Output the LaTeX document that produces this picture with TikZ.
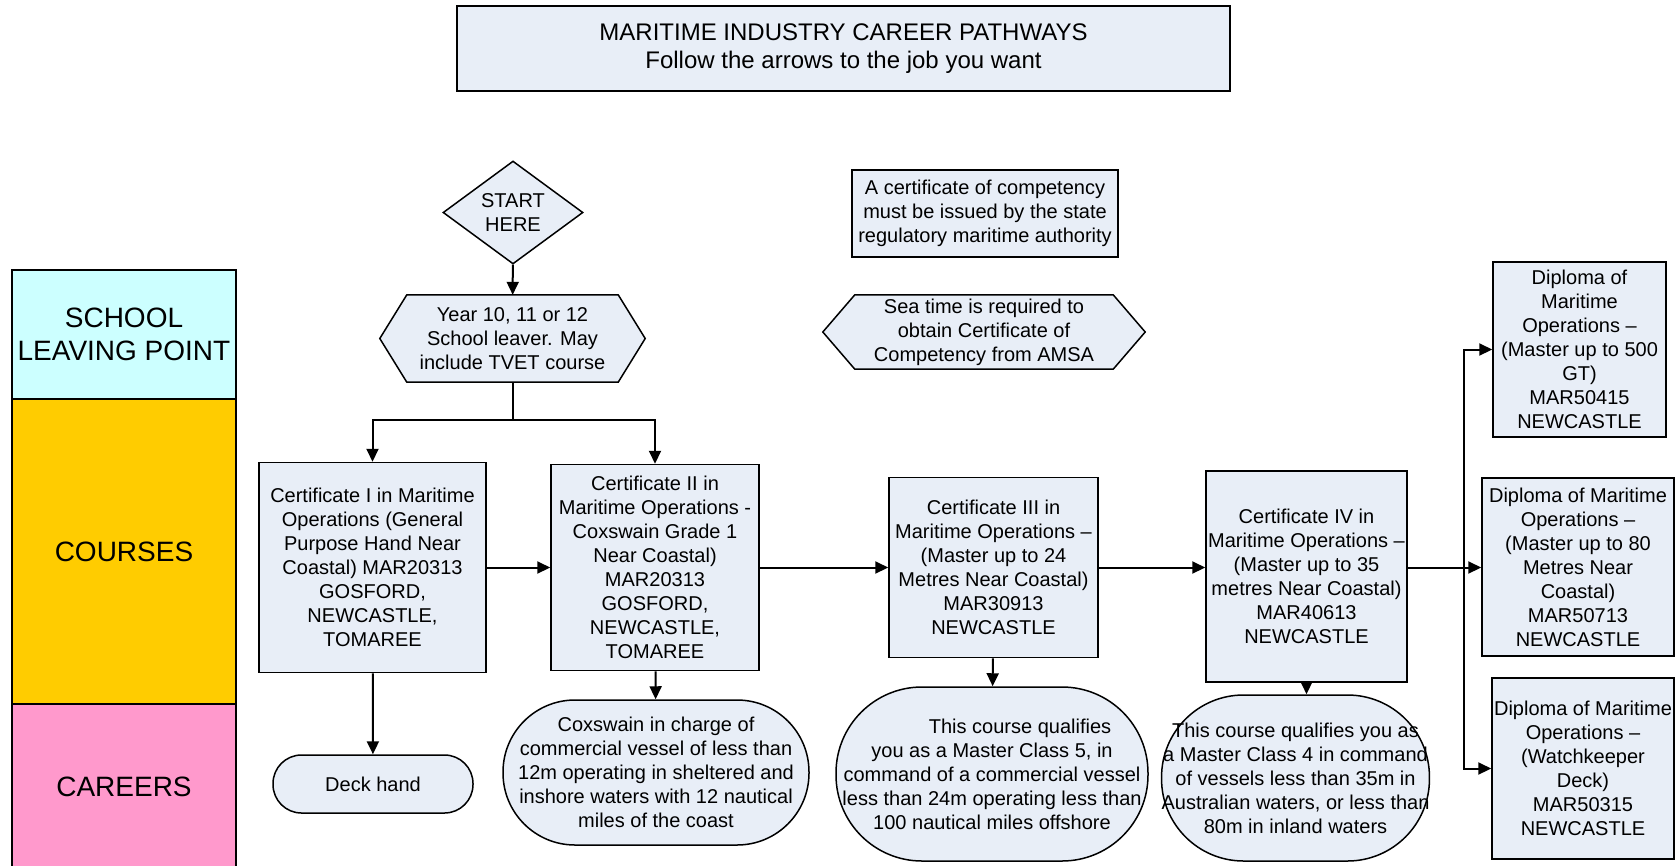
\documentclass[tikz,border=0pt]{standalone}
\usepackage{fontspec}
\setmainfont{Liberation Sans}
\usetikzlibrary{arrows.meta, calc, shapes.geometric, backgrounds}
\definecolor{boxFill}{HTML}{E8EEF7}
\definecolor{schoolCyan}{HTML}{CCFFFF}
\definecolor{coursesGold}{HTML}{FFCC00}
\definecolor{careersPink}{HTML}{FF99CC}

\begin{document}
\begin{tikzpicture}[x=1pt, y=-1pt, >={Triangle[length=13pt, width=12pt]},
  every node/.style={font=\fontsize{20}{24}\selectfont, align=center},
  stepbox/.style={draw, line width=1.5pt, fill=boxFill, inner sep=2pt},
  careerbox/.style={draw, line width=1.5pt, fill=boxFill, inner sep=0pt, rounded corners=#1},
  careerbox/.default=28pt,
  lane/.style={draw, line width=1.5pt, minimum width=224pt, font=\fontsize{28}{33}\selectfont},
  link/.style={->, line width=2pt}]
  \useasboundingbox (0,0) rectangle (1677,865);

  % lanes on the left
  \node[lane, fill=schoolCyan, minimum height=129pt] (laneSchool) at (124,334.5) {SCHOOL\\LEAVING POINT};
  \node[lane, fill=coursesGold, minimum height=305pt] (laneCourses) at (124,551.5) {COURSES};
  \node[lane, fill=careersPink, minimum height=166pt] (laneCareers) at (124,787) {CAREERS};

  % title and notes
  \node[stepbox, minimum width=773pt, minimum height=85pt, font=\fontsize{24}{28}\selectfont] (title) at (843.5,48.5) {MARITIME INDUSTRY CAREER PATHWAYS\\Follow the arrows to the job you want};
  \node[stepbox, minimum width=266pt, minimum height=87pt] (cocNote) at (985,213.5) {A certificate of competency\\must be issued by the state\\regulatory maritime authority};
  \node[minimum width=258pt, minimum height=74pt, inner sep=0pt] (seaTime) at (984,332) {Sea time is required to\\obtain Certificate of\\Competency from AMSA};

  % start
  \node[draw, diamond, line width=1.5pt, fill=boxFill, aspect=1.4, inner sep=0pt, minimum width=140pt, minimum height=103pt] (startHere) at (513,212.5) {START\\HERE};
  \node[minimum width=211pt, minimum height=87pt, inner sep=0pt] (schoolLeaver) at (512.5,338.5) {Year 10, 11 or 12\\School leaver. May\\include TVET course};

  \begin{scope}[on background layer]
    \draw[line width=1.5pt, fill=boxFill] (schoolLeaver.north west) -- (schoolLeaver.north east) -- ($(schoolLeaver.east)+(27,0)$) -- (schoolLeaver.south east) -- (schoolLeaver.south west) -- ($(schoolLeaver.west)+(-27,0)$) -- cycle;
    \draw[line width=1.5pt, fill=boxFill] (seaTime.north west) -- (seaTime.north east) -- ($(seaTime.east)+(32,0)$) -- (seaTime.south east) -- (seaTime.south west) -- ($(seaTime.west)+(-32,0)$) -- cycle;
  \end{scope}

  % courses
  \node[stepbox, minimum width=227pt, minimum height=210pt] (certOne) at (372.5,567.5) {Certificate I in Maritime\\Operations (General\\Purpose Hand Near\\Coastal) MAR20313\\GOSFORD,\\NEWCASTLE,\\TOMAREE};
  \node[stepbox, minimum width=208pt, minimum height=206pt] (certTwo) at (655,567.5) {Certificate II in\\Maritime Operations -\\Coxswain Grade 1\\Near Coastal)\\MAR20313\\GOSFORD,\\NEWCASTLE,\\TOMAREE};
  \node[stepbox, minimum width=209pt, minimum height=180pt] (certThree) at (993.5,567.5) {Certificate III in\\Maritime Operations --\\(Master up to 24\\Metres Near Coastal)\\MAR30913\\NEWCASTLE};
  \node[stepbox, minimum width=201pt, minimum height=211pt] (certFour) at (1306.5,576.5) {Certificate IV in\\Maritime Operations --\\(Master up to 35\\metres Near Coastal)\\MAR40613\\NEWCASTLE};

  \node[stepbox, minimum width=173pt, minimum height=175pt] (dipMaster500) at (1579.5,349.5) {Diploma of\\Maritime\\Operations --\\(Master up to 500\\GT)\\MAR50415\\NEWCASTLE};
  \node[stepbox, minimum width=192pt, minimum height=178pt] (dipMaster80) at (1578,567) {Diploma of Maritime\\Operations --\\(Master up to 80\\Metres Near\\Coastal)\\MAR50713\\NEWCASTLE};
  \node[stepbox, minimum width=182pt, minimum height=181pt] (dipWatch) at (1583,768.5) {Diploma of Maritime\\Operations --\\(Watchkeeper\\Deck)\\MAR50315\\NEWCASTLE};

  % careers
  \node[careerbox=28.5pt, minimum width=200pt, minimum height=58pt] (deckHand) at (373,784) {Deck hand};
  \node[careerbox=72pt, minimum width=306pt, minimum height=145pt] (coxswainJob) at (656,772.5) {Coxswain in charge of\\commercial vessel of less than\\12m operating in sheltered and\\inshore waters with 12 nautical\\miles of the coast};
  \node[careerbox=86pt, minimum width=312pt, minimum height=174pt] (masterFiveJob) at (992,774) {\hspace*{56pt}This course qualifies\\you as a Master Class 5, in\\command of a commercial vessel\\less than 24m operating less than\\100 nautical miles offshore};
  \node[careerbox=82pt, minimum width=253pt, minimum height=166pt] (masterFourJob) at (1295.5,778) {This course qualifies you as\\a Master Class 4 in command\\of vessels less than 35m in\\Australian waters, or less than\\80m in inland waters};

  % connectors
  \coordinate (split) at ($(schoolLeaver.south)+(0,38)$);
  \coordinate (fork) at (1464,567.5);
  \draw[link] (startHere) -- (schoolLeaver);
  \draw[link, -] (schoolLeaver) -- (split);
  \draw[link] (split) -| (certOne);
  \draw[link] (split) -| (certTwo);
  \draw[link] (certOne) -- (certTwo);
  \draw[link] (certTwo) -- (certThree);
  \draw[link] (certThree.east) -- (certThree.east -| certFour.west);
  \draw[link, -] (certFour.east |- fork) -- (fork);
  \draw[link] (fork) -- (fork -| dipMaster80.west);
  \draw[link] (fork) |- (dipMaster500);
  \draw[link] (fork) |- (dipWatch);
  \draw[link] (certOne) -- (deckHand);
  \draw[link] (certTwo) -- (coxswainJob);
  \draw[link] (certThree) -- (masterFiveJob);
  \draw[link] (certFour.south) -- (certFour.south |- masterFourJob.north);
\end{tikzpicture}
\end{document}
